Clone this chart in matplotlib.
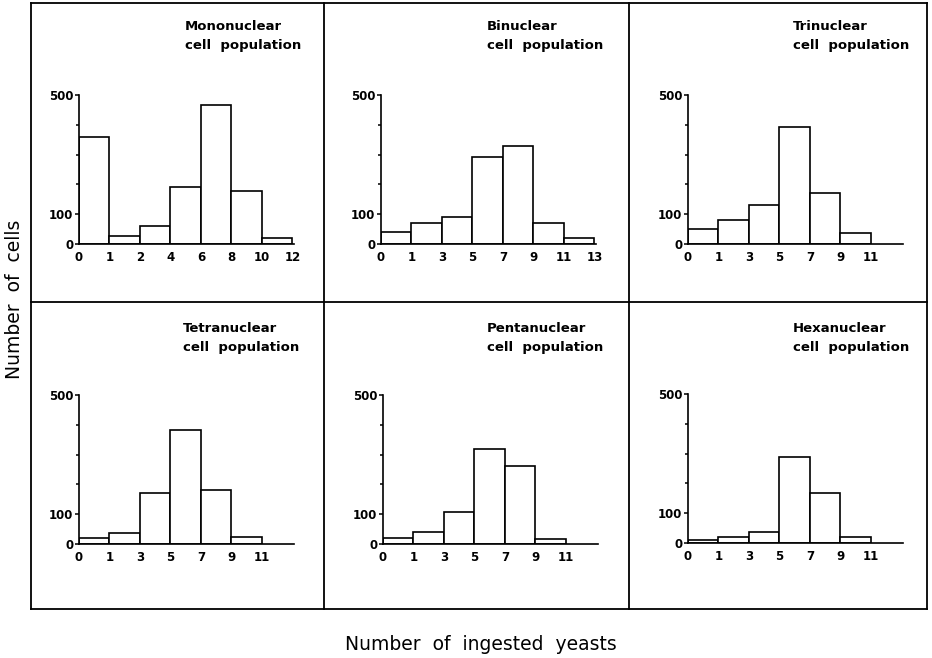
import matplotlib
matplotlib.use("Agg")
import matplotlib.pyplot as plt
from matplotlib.lines import Line2D

# Datos (número de células por intervalo de levaduras ingeridas)
titles = ["Mononuclear", "Binuclear", "Trinuclear",
          "Tetranuclear", "Pentanuclear", "Hexanuclear"]

mono_edges = ["0", "1", "2", "4", "6", "8", "10", "12"]
bi_edges = ["0", "1", "3", "5", "7", "9", "11", "13"]
odd_edges = ["0", "1", "3", "5", "7", "9", "11"]

mono = [360, 28, 60, 191, 466, 177, 21]
bi = [41, 71, 89, 293, 329, 71, 21]
tri = [50, 80, 130, 393, 171, 38]
tetra = [20, 36, 172, 382, 181, 22]
penta = [21, 40, 109, 320, 261, 16]
hexa = [11, 19, 36, 290, 167, 20]

panels = [
    (mono, mono_edges), (bi, bi_edges), (tri, odd_edges),
    (tetra, odd_edges), (penta, odd_edges), (hexa, odd_edges),
]

W, H = 932, 658
fig = plt.figure(figsize=(W / 100, H / 100), dpi=100)


def fx(px):
    return px / W


def fy(py):
    return 1 - py / H


# Marco y divisiones
lw_frame = 1.3
frame_l, frame_r, frame_t, frame_b, mid = 31, 927, 3, 609, 302
for xs, ys in [
    ([frame_l, frame_r], [frame_t, frame_t]),
    ([frame_l, frame_r], [frame_b, frame_b]),
    ([frame_l, frame_l], [frame_t, frame_b]),
    ([frame_r, frame_r], [frame_t, frame_b]),
    ([frame_l, frame_r], [mid, mid]),
    ([324, 324], [frame_t, frame_b]),
    ([629, 629], [frame_t, frame_b]),
]:
    fig.add_artist(Line2D([fx(x) for x in xs], [fy(y) for y in ys],
                          color="black", lw=lw_frame))

# Posición de cada eje (px): izquierda, y del 0, título x
lefts = [79, 381, 688, 79, 383, 688]
zeros = [244, 244, 244, 544, 544, 543]
title_x = [185, 487, 793, 183, 487, 793]
ax_w = 215
ax_h = 149

font = "DejaVu Sans"

for i, (vals, edges) in enumerate(panels):
    l, z = lefts[i], zeros[i]
    ax = fig.add_axes([fx(l), fy(z), ax_w / W, ax_h / H])
    ax.bar(range(len(vals)), vals, width=1, align="edge",
           color="white", edgecolor="black", lw=1.2)
    ax.set_xlim(0, 7.05)
    ax.set_ylim(0, 500)
    for s in ["top", "right"]:
        ax.spines[s].set_visible(False)
    ax.spines["left"].set_linewidth(1.2)
    ax.spines["bottom"].set_linewidth(1.2)
    ax.set_yticks([0, 100, 500])
    ax.set_yticklabels(["0", "100", "500"], fontsize=8.5, fontweight="bold",
                       family=font)
    ax.set_yticks([200, 300, 400], minor=True)
    ax.tick_params(axis="y", which="major", length=3, width=1.1, pad=1)
    ax.tick_params(axis="y", which="minor", length=2.5, width=1.1)
    ax.set_xticks(range(len(edges)))
    ax.set_xticklabels(edges, fontsize=8.5, fontweight="bold", family=font)
    ax.tick_params(axis="x", length=0, pad=5)
    ax.patch.set_alpha(0)

    ty = 36 if i < 3 else 338
    fig.text(fx(title_x[i]), fy(ty), titles[i] + "\ncell  population",
             ha="left", va="center", fontsize=9.5, fontweight="bold",
             family=font, linespacing=1.55)

fig.text(fx(15), fy(299), "Number  of  cells", rotation=90,
         ha="center", va="center", fontsize=13.5, family=font)
fig.text(fx(481), fy(645), "Number  of  ingested  yeasts",
         ha="center", va="center", fontsize=13.5, family=font)

fig.savefig("out.png", dpi=100)
